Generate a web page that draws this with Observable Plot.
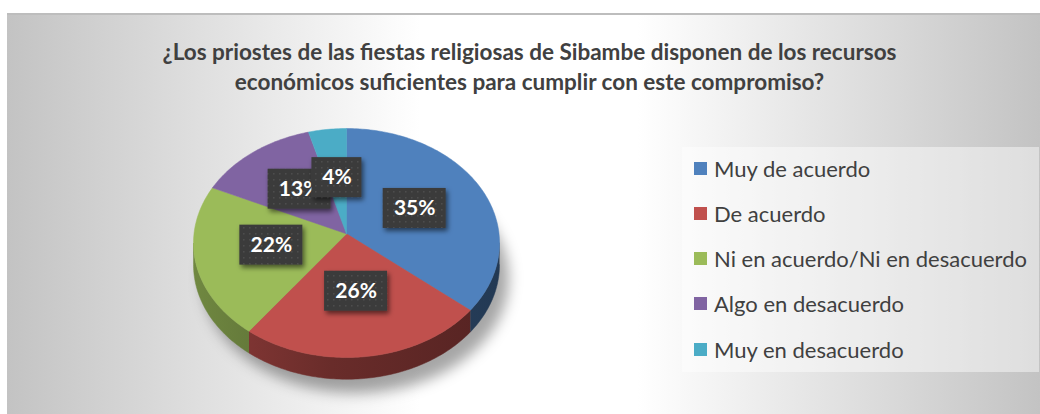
<!DOCTYPE html>
<html><head><meta charset="utf-8">
<script src="https://cdn.jsdelivr.net/npm/d3@7"></script>
<script src="https://cdn.jsdelivr.net/npm/@observablehq/plot@0.6"></script>
<style>
html,body{margin:0;padding:0;background:#fff;}
#chart{position:absolute;left:7px;top:13px;width:1033px;height:401px;overflow:hidden;
  background:linear-gradient(90deg,#c3c3c3 0%,#ffffff 40%,#ffffff 61%,#c3c3c3 100%);
  box-shadow:inset 0 2px 0 #bdbdbd;}
#title{position:absolute;left:0;top:24px;width:1045px;text-align:center;font-family:Lato,sans-serif;font-weight:bold;font-size:22.5px;line-height:30px;color:#404040;}
#plot{position:absolute;left:0;top:0;}
#legend{position:absolute;left:675px;top:134px;width:357px;height:225px;box-sizing:border-box;padding:0 0 0 12px;background:rgba(255,255,255,0.45);overflow:visible;}
#legend .lg-swatch{height:45.3px;padding:0;}
#legend .lg-swatch > svg{margin-right:7px;}
#legend .lg-swatch-label{overflow:visible;}
</style></head>
<body>
<div id="chart">
  <div id="title">¿Los priostes de las fiestas religiosas de Sibambe disponen de los recursos<br>económicos suficientes para cumplir con este compromiso?</div>
  <div id="plot"></div>
  <div id="legend"></div>
</div>
<script>
const categories = ["Muy de acuerdo","De acuerdo","Ni en acuerdo/Ni en desacuerdo","Algo en desacuerdo","Muy en desacuerdo"];
const values = [35, 26, 22, 13, 4];
const labels = ["35%","26%","22%","13%","4%"];
const colors = ["#4F81BD","#C0504D","#9BBB59","#8064A2","#4BACC6"];

const W = 1033, H = 401;
const xRange = [186, 492], yRange = [115, 344];
const vertex = {x: 0, y: -0.08};
const depth = 0.19;

const arcs = d3.pie().sort(null)(values);
const rim = a => [Math.sin(a), -Math.cos(a)];
const steps = (a0, a1) => { const n = Math.max(2, Math.ceil((a1 - a0) / (Math.PI / 180))); return d3.range(n + 1).map(k => a0 + (a1 - a0) * k / n); };

const tops = arcs.flatMap((a, i) => {
  const pts = [{cat: categories[i], x: vertex.x, y: vertex.y}];
  for (const t of steps(a.startAngle, a.endAngle)) { const [x, y] = rim(t); pts.push({cat: categories[i], x, y}); }
  pts.push({cat: categories[i], x: vertex.x, y: vertex.y});
  return pts;
});
const sides = arcs.map((a, i) => {
  const lo = Math.max(a.startAngle, Math.PI / 2), hi = Math.min(a.endAngle, 3 * Math.PI / 2);
  if (hi <= lo) return [];
  const ts = steps(lo, hi);
  return [...ts.map(t => { const [x, y] = rim(t); return {x, y}; }),
          ...ts.slice().reverse().map(t => { const [x, y] = rim(t); return {x, y: y + depth}; })];
});
const shadow = steps(0, 2 * Math.PI).map(t => { const [x, y] = rim(t); return {x: x + 0.06, y: y + depth + 0.12}; });
const labelData = arcs.map((a, i) => {
  const m = (a.startAngle + a.endAngle) / 2; const [x, y] = rim(m);
  return {label: labels[i], x: vertex.x + 0.5 * (x - vertex.x), y: vertex.y + 0.5 * (y - vertex.y), w: labels[i].length > 2 ? 63 : 50};
});

const plot = Plot.plot({
  width: W, height: H, margin: 0,
  x: {domain: [-1, 1], range: xRange, axis: null},
  y: {domain: [-1, 1], range: yRange, axis: null},
  color: {domain: categories, range: colors},
  style: {background: "transparent", fontFamily: "Lato, sans-serif", overflow: "visible"},
  marks: [
    Plot.line(shadow, {x: "x", y: "y", fill: "#000", fillOpacity: 0.35, stroke: "none"}),
    ...sides.map((s, i) => Plot.line(s, {x: "x", y: "y", fill: `url(#side${i})`, stroke: `url(#side${i})`, strokeWidth: 0.5})),
    Plot.line(tops, {x: "x", y: "y", z: "cat", fill: "cat", stroke: "cat", strokeWidth: 0.5}),
    ...labelData.flatMap(d => [
      Plot.rect([d], {x1: "x", x2: "x", y1: "y", y2: "y", insetLeft: -d.w / 2, insetRight: -d.w / 2, insetTop: -20, insetBottom: -20, fill: "url(#dots)", dy: -4}),
      Plot.text([d], {x: "x", y: "y", text: "label", fill: "white", fontSize: 21, fontWeight: "bold", dy: -4})
    ])
  ]
});

const defs = d3.select(plot).insert("defs", ":first-child");
const pat = defs.append("pattern").attr("id", "dots").attr("width", 6).attr("height", 6).attr("patternUnits", "userSpaceOnUse");
pat.append("rect").attr("width", 6).attr("height", 6).attr("fill", "#3b3b3b");
pat.append("rect").attr("x", 2).attr("y", 2).attr("width", 1.5).attr("height", 1.5).attr("fill", "#4d4d4d");
const f1 = defs.append("filter").attr("id", "boxshadow").attr("x", "-30%").attr("y", "-30%").attr("width", "170%").attr("height", "180%");
f1.append("feDropShadow").attr("dx", 2).attr("dy", 3).attr("stdDeviation", 2.5).attr("flood-color", "#000").attr("flood-opacity", 0.55);
const f2 = defs.append("filter").attr("id", "blur").attr("x", "-30%").attr("y", "-30%").attr("width", "160%").attr("height", "160%");
f2.append("feGaussianBlur").attr("stdDeviation", 7);
colors.forEach((c, i) => {
  const g = defs.append("linearGradient").attr("id", `side${i}`).attr("gradientUnits", "userSpaceOnUse")
    .attr("x1", xRange[0]).attr("x2", xRange[1]).attr("y1", 0).attr("y2", 0);
  [[0, 0.9], [0.45, 1.7], [1, 2.3]].forEach(([o, k]) => g.append("stop").attr("offset", o).attr("stop-color", d3.rgb(c).darker(k).formatHex()));
});
const lineGroups = plot.querySelectorAll('g[aria-label="line"]');
if (lineGroups.length) lineGroups[0].setAttribute("filter", "url(#blur)");
plot.querySelectorAll('g[aria-label="rect"]').forEach(g => g.setAttribute("filter", "url(#boxshadow)"));
document.getElementById("plot").appendChild(plot);

const leg = Plot.legend({
  color: {domain: categories, range: colors},
  legend: "swatches", columns: 1, swatchSize: 13, className: "lg",
  style: {fontFamily: "Lato, sans-serif", fontSize: "22px", color: "#404040", margin: "0"}
});
document.getElementById("legend").appendChild(leg);
// align first legend row centre with the reference (≈168px page)
const firstRow = leg.querySelector(".lg-swatch");
if (firstRow) {
  const r = firstRow.getBoundingClientRect();
  const shift = 168 - (r.top + r.height / 2);
  leg.style.marginTop = shift + "px";
}
</script>
</body></html>
